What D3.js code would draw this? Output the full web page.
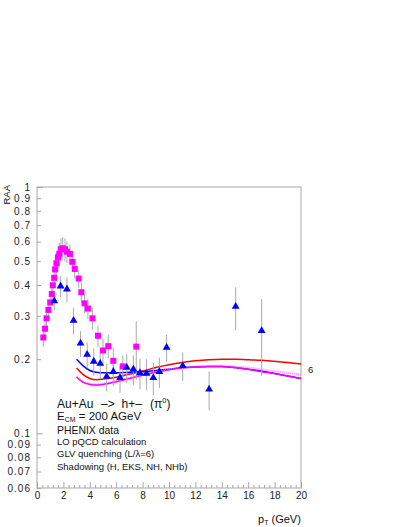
<!DOCTYPE html>
<html><head><meta charset="utf-8">
<script src="https://cdn.jsdelivr.net/npm/d3@7"></script>
<style>
body{margin:0;background:#fff;}
svg{display:block;font-family:"Liberation Sans",Arial,Helvetica,sans-serif;}
</style></head>
<body><svg id="c" width="407" height="527"></svg>
<script>
// ---- data ----
const pi0X   = [0.48,0.61,0.72,0.86,1.0,1.12,1.2,1.3,1.37,1.47,1.59,1.69,1.82,1.95,2.12,2.27,2.5,2.68,2.86,3.16,3.36,3.6,3.86,4.2,4.62,5.0,5.4,5.78,6.5,7.52];
const pi0Y   = [0.245,0.266,0.293,0.317,0.340,0.368,0.399,0.428,0.463,0.490,0.518,0.535,0.559,0.564,0.559,0.546,0.535,0.497,0.465,0.425,0.374,0.337,0.321,0.293,0.249,0.217,0.226,0.197,0.187,0.225];
const pi0Err = [0.02,0.02,0.022,0.024,0.026,0.03,0.035,0.04,0.045,0.05,0.055,0.06,0.06,0.06,0.06,0.055,0.05,0.045,0.04,0.035,0.035,0.03,0.03,0.03,0.025,0.025,0.025,0.025,0.02,0.06];

const hX   = [1.31,1.79,2.27,2.77,3.3,3.8,4.3,4.79,5.28,5.78,6.29,6.8,7.3,7.8,8.3,8.81,9.27,9.82,11.04,13.04,15.05,17.02];
const hY   = [0.345,0.396,0.385,0.287,0.232,0.209,0.196,0.192,0.170,0.178,0.168,0.185,0.182,0.176,0.175,0.168,0.178,0.223,0.188,0.151,0.327,0.261];
const hErr = [0.03,0.04,0.045,0.035,0.028,0.025,0.025,0.025,0.022,0.022,0.022,0.025,0.025,0.025,0.025,0.025,0.025,0.028,0.025,0.027,0.065,0.09];

const curveX     = [3,3.5,4,4.5,5,6,7,8,9,10,11,12,13,14,15,16,17,18,19,20];
const blueCurve  = [0.200,0.188,0.180,0.177,0.176,0.176,0.177,0.178,0.180,0.182,0.185,0.186,0.187,0.187,0.185,0.182,0.179,0.175,0.171,0.167];
const redCurve   = [0.184,0.173,0.167,0.165,0.166,0.169,0.174,0.179,0.185,0.190,0.194,0.197,0.199,0.200,0.200,0.199,0.198,0.196,0.194,0.191];
const magCurve   = [0.169,0.161,0.158,0.157,0.158,0.162,0.167,0.172,0.177,0.181,0.184,0.186,0.187,0.187,0.185,0.182,0.178,0.175,0.171,0.167];
const pinkCurve  = [0.170,0.162,0.159,0.158,0.159,0.163,0.168,0.173,0.178,0.182,0.185,0.187,0.188,0.188,0.187,0.185,0.182,0.179,0.176,0.173];

const xMajor = [0,2,4,6,8,10,12,14,16,18,20];
const xMinor = d3.range(0,20.001,0.4).filter(v=>Math.abs(v/2-Math.round(v/2))>0.01);
const yTicks = [0.06,0.07,0.08,0.09,0.1,0.2,0.3,0.4,0.5,0.6,0.7,0.8,0.9,1];
const yTickLabels = ["0.06","0.07","0.08","0.09","0.1","0.2","0.3","0.4","0.5","0.6","0.7","0.8","0.9","1"];

// ---- layout ----
const L=37,R=301,T=187,B=488;
const x = d3.scaleLinear().domain([0,20]).range([L,R]);
const y = d3.scaleLog().domain([0.06,1]).range([B,T]);
const svg = d3.select("#c");
const axisCol="#a8a8a8";

// axes
const gx = svg.append("g").attr("transform",`translate(0,${B})`)
  .call(d3.axisBottom(x).tickValues(xMajor).tickSize(-6).tickSizeOuter(0).tickPadding(4).tickFormat(d3.format("d")));
const gxm = svg.append("g").attr("transform",`translate(0,${B})`)
  .call(d3.axisBottom(x).tickValues(xMinor).tickSize(-3).tickSizeOuter(0).tickFormat(""));
const gy = svg.append("g").attr("transform",`translate(${L},0)`)
  .call(d3.axisLeft(y).tickValues(yTicks).tickSize(-4).tickSizeOuter(0).tickPadding(6)
    .tickFormat((d,i)=>yTickLabels[i]));
[gx,gxm,gy].forEach(g=>{
  g.select(".domain").remove();
  g.selectAll("line").attr("stroke",axisCol);
  g.selectAll("text").attr("fill","#222").style("font-size","10px")
   .style("font-family",'"Liberation Sans",Arial,sans-serif');
});
gy.selectAll("text").style("letter-spacing","1px");
gy.selectAll(".tick line").attr("x2",d=>(d===0.1||d===1)?6:4);

svg.append("rect").attr("x",L).attr("y",T).attr("width",R-L).attr("height",B-T)
  .attr("fill","none").attr("stroke",axisCol).attr("stroke-width",1);

// curves
const line = d3.line().x(d=>x(d[0])).y(d=>y(d[1])).curve(d3.curveMonotoneX);
const curves = [
  {v:redCurve,  c:"#ff0000", w:1.5},
  {v:blueCurve, c:"#0000ff", w:1.5},
  {v:pinkCurve, c:"#ff8cff", w:2, dash:"1,1"},
  {v:magCurve,  c:"#ff00ff", w:1.5},
];
curves.forEach(k=>{
  svg.append("path").datum(curveX.map((xx,i)=>[xx,k.v[i]]))
    .attr("d",line).attr("fill","none").attr("stroke",k.c).attr("stroke-width",k.w)
    .attr("stroke-dasharray",k.dash||null);
});

// error bars
function errBars(X,Y,E){
  svg.append("g").selectAll("line").data(X).join("line")
    .attr("x1",d=>x(d)).attr("x2",d=>x(d))
    .attr("y1",(d,i)=>y(Y[i]+E[i])).attr("y2",(d,i)=>y(Y[i]-E[i]))
    .attr("stroke","#aaaaaa").attr("stroke-width",1);
}
errBars(pi0X,pi0Y,pi0Err);
errBars(hX,hY,hErr);

// markers
svg.append("g").selectAll("path").data(pi0X).join("path")
  .attr("d",d3.symbol(d3.symbolSquare,36))
  .attr("transform",(d,i)=>`translate(${x(d)},${y(pi0Y[i])})`)
  .attr("fill","#ff00ff");
svg.append("g").selectAll("path").data(hX).join("path")
  .attr("d",d3.symbol(d3.symbolTriangle,27))
  .attr("transform",(d,i)=>`translate(${x(d)},${y(hY[i])})`)
  .attr("fill","#0000ff");

// curve label
svg.append("text").attr("x",308).attr("y",372.5).attr("font-size",9.5).attr("fill","#222").text("6");

// annotation
const small=9.5;
const t1 = svg.append("text").attr("y",407.5).attr("font-size",12).attr("fill","#111");
t1.append("tspan").attr("x",57).text("Au+Au");
t1.append("tspan").attr("x",101).text("\u2013>");
t1.append("tspan").attr("x",121.5).text("h+\u2013");
t1.append("tspan").attr("x",150).text("(\u03c0");
t1.append("tspan").attr("font-size",7.5).attr("dy",-5).text("0");
t1.append("tspan").attr("dy",5).text(")");

const t2 = svg.append("text").attr("x",57).attr("y",420).attr("font-size",11.5).attr("fill","#111");
t2.append("tspan").text("E");
t2.append("tspan").attr("font-size",7).attr("dy",2).text("CM");
t2.append("tspan").attr("dy",-2).text(" = 200 AGeV");

svg.append("text").attr("x",57).attr("y",433.5).attr("font-size",11).attr("textLength",62)
  .attr("lengthAdjust","spacingAndGlyphs").attr("fill","#111").text("PHENIX data");
svg.append("text").attr("x",57).attr("y",445).attr("font-size",small).attr("fill","#111").text("LO pQCD calculation");
svg.append("text").attr("x",57).attr("y",457).attr("font-size",small).attr("fill","#111").text("GLV quenching (L/\u03bb=6)");
svg.append("text").attr("x",57).attr("y",470).attr("font-size",small).attr("fill","#111").text("Shadowing (H, EKS, NH, NHb)");

// axis titles
const xt = svg.append("text").attr("x",258).attr("y",522.5).attr("font-size",11).attr("fill","#111");
xt.append("tspan").text("p");
xt.append("tspan").attr("font-size",7).attr("dy",2).text("T");
xt.append("tspan").attr("dy",-2).text(" (GeV)");

svg.append("text").attr("transform","translate(10,185) rotate(-90)")
  .attr("text-anchor","end").attr("font-size",9.5).attr("fill","#111").text("RAA");
</script></body></html>
